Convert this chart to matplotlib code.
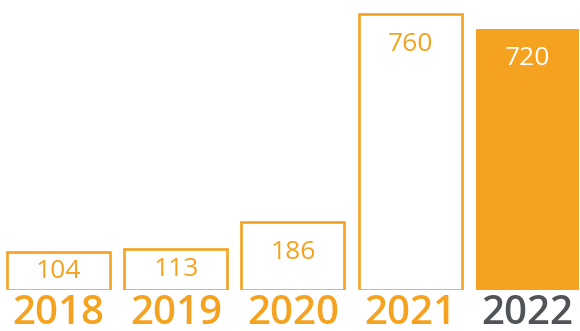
import matplotlib.pyplot as plt

years = ['2018', '2019', '2020', '2021', '2022']
values = [104, 113, 186, 760, 720]

orange = '#f4a21f'
gray = '#505357'

fig = plt.figure(figsize=(5.8, 3.31), dpi=100)
ax = fig.add_axes([0, 41 / 331, 1, 290 / 331])

x = range(len(years))
for i, v in enumerate(values):
    last = i == len(values) - 1
    ax.bar(i, v, width=0.88, color=orange if last else 'white',
           edgecolor=orange, linewidth=0 if last else 1.9)
    # label sits ~30px under the top, or centred in short boxes
    ty = max(v - 83, v / 2)
    ax.text(i, ty, str(v), ha='center', va='center', fontsize=19,
            family='Open Sans', color='white' if last else orange)

ax.set_xlim(-0.5, 4.45)
ax.set_ylim(0, 760 * 290 / 276)
ax.set_xticks(list(x))
ax.set_xticklabels(years, fontsize=29, family='Open Sans', fontweight='semibold')
for lbl, c in zip(ax.get_xticklabels(), [orange] * 4 + [gray]):
    lbl.set_color(c)
ax.tick_params(axis='x', length=0, pad=3)
ax.set_yticks([])
for s in ax.spines.values():
    s.set_visible(False)

fig.savefig('out.png', dpi=100)
